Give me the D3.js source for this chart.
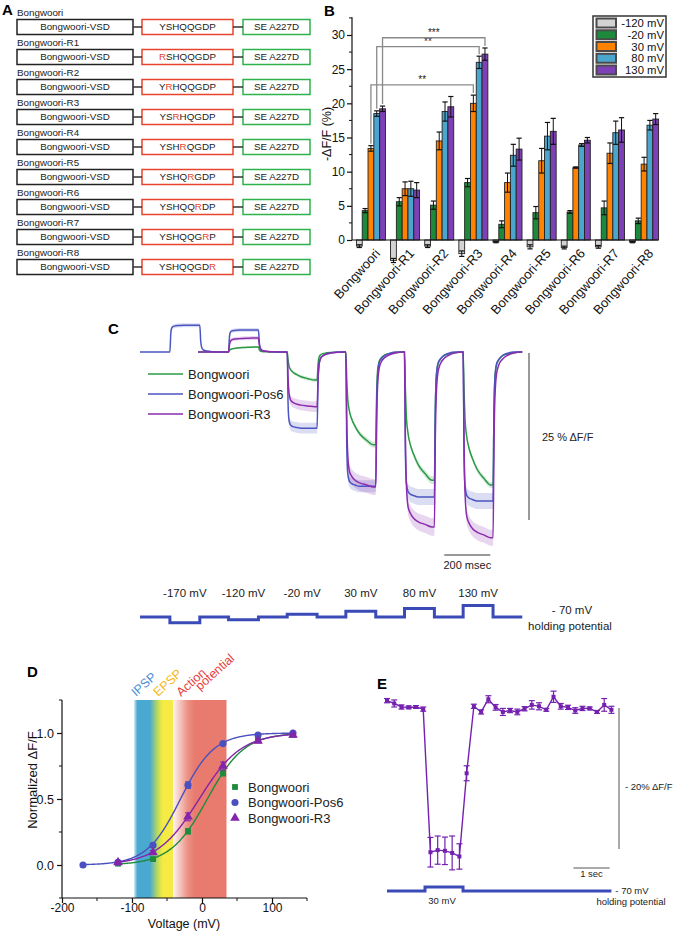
<!DOCTYPE html>
<html>
<head>
<meta charset="utf-8">
<script src="https://cdn.jsdelivr.net/npm/d3@7/dist/d3.min.js"></script>
<style>
html,body{margin:0;padding:0;background:#fff;}
svg{display:block;font-family:"Liberation Sans",Arial,Helvetica,sans-serif;}
</style>
</head>
<body>
<svg id="fig" width="675" height="931"></svg>
<script>
// ================= DATA =================
// Panel A
const constructNames = ["Bongwoori","Bongwoori-R1","Bongwoori-R2","Bongwoori-R3","Bongwoori-R4","Bongwoori-R5","Bongwoori-R6","Bongwoori-R7","Bongwoori-R8"];
const vsdLabel = "Bongwoori-VSD";
const linkerSeqs = ["YSHQQGDP","RSHQQGDP","YRHQQGDP","YSRHQGDP","YSHRQGDP","YSHQRGDP","YSHQQRDP","YSHQQGRP","YSHQQGDR"];
const mutationIndex = [-1,0,1,2,3,4,5,6,7];
const fpLabel = "SE A227D";

// Panel B  (-ΔF/F %, mean and SEM per construct)
const bGroups = constructNames;
const bLegend = ["-120 mV","-20 mV","30 mV","80 mV","130 mV"];
const dffM120 = [-0.9,-3.0,-0.9,-2.0,-0.3,-1.0,-1.1,-1.0,-0.3];
const dffM20  = [4.3,5.6,5.1,8.4,2.3,4.0,4.1,4.7,2.8];
const dff30   = [13.4,7.5,14.5,20.0,8.4,11.6,10.6,12.7,11.1];
const dff80   = [18.5,7.5,18.8,26.0,12.4,15.2,13.9,15.7,16.8];
const dff130  = [19.2,7.3,19.5,27.2,13.3,15.9,14.6,16.1,17.7];
const semM120 = [0.2,0.3,0.2,0.4,0.1,0.3,0.2,0.2,0.1];
const semM20  = [0.3,0.6,0.6,0.6,0.5,0.9,0.2,1.0,0.4];
const sem30   = [0.4,1.0,1.3,1.2,1.4,1.8,0.1,1.5,1.0];
const sem80   = [0.4,1.1,1.4,0.9,1.6,2.0,0.2,1.7,0.7];
const sem130  = [0.4,1.1,1.5,0.9,1.6,1.9,0.4,1.8,0.8];
const sigLabels = ["**","**","***"];
const sigSeries = [2,3,4];
const sigLevels = [22.7,28.3,29.6];
const sigFromGroup = 0, sigToGroup = 3;
const bYTicks = [0,5,10,15,20,25,30];

// Panel C (ΔF/F %, step levels per voltage step)
const cSteps = ["-170 mV","-120 mV","-20 mV","30 mV","80 mV","130 mV"];
const cStepMV = [-170,-120,-20,30,80,130];
const cStepOn = [130,385,640,895,1150,1405];   // ms
const cStepOff = [260,515,770,1025,1280,1535]; // ms
const cEnd = 1662;
const cNames = ["Bongwoori","Bongwoori-Pos6","Bongwoori-R3"];
const cStart = [252,0,252];
const cLevBongwoori = [null,0.75,-4.2,-13.9,-19.2,-19.9];
const cLevPos6      = [4.0,3.3,-11.4,-20.1,-21.7,-22.3];
const cLevR3        = [null,2.1,-8.2,-20.2,-26.2,-27.8];
const cSemBongwoori = [null,0.15,0.3,0.45,0.55,0.45];
const cSemPos6      = [0.3,0.3,0.8,0.9,1.2,1.2];
const cSemR3        = [null,0.3,0.8,1.2,1.3,1.2];
const kinT = [0,4,8,15,25,40,60,90,120]; // ms after step edge
const onBongwoori  = [0,0.3,0.5,0.63,0.72,0.8,0.88,0.95,1];
const onPos6       = [0,0.7,0.9,0.96,0.98,0.99,1,1,1];
const onR3         = [0,0.5,0.75,0.88,0.92,0.95,0.97,0.985,1];
const offBongwoori = [0,0.55,0.8,0.9,0.94,0.97,0.985,0.995,1];
const offPos6      = [0,0.6,0.82,0.92,0.95,0.975,0.99,1,1];
const offR3        = [0,0.5,0.75,0.88,0.93,0.96,0.98,0.995,1];

// Panel D (normalized ΔF/F vs voltage)
const dVoltages = [-170,-120,-70,-20,30,80,130];
const dBongwoori = [null,0.01,0.045,0.255,0.695,0.955,0.985];
const dPos6      = [0.0,0.02,0.15,0.605,0.92,0.985,1.0];
const dR3        = [null,0.02,0.095,0.365,0.75,0.94,0.985];
const dSemBongwoori = [null,0.01,0.01,0.02,0.02,0.02,0.01];
const dSemPos6      = [0.005,0.01,0.015,0.025,0.01,0.01,0.01];
const dSemR3        = [null,0.01,0.015,0.03,0.03,0.015,0.01];
const fitV50   = [7.6,-30.7,-4.0];
const fitSlope = [26.4,24.0,30.0];
const fitVmin  = [-120,-170,-120];
const dXTicks = [-200,-100,0,100];
const dYTicks = [0,0.5,1.0];
const dBandLabels = ["IPSP","EPSP","Action","potential"];

// Panel E (ΔF/F %, single-trial 5 Hz sampling)
const eTime = [0,0.2,0.4,0.6,0.8,1.0,1.2,1.4,1.6,1.8,2.0,2.2,2.4,2.6,2.8,3.0,3.2,3.4,3.6,3.8,4.0,4.2,4.4,4.6,4.8,5.0,5.2,5.4,5.6,5.8,6.0,6.2];
const eVal  = [0.9,0.5,0.0,-0.05,0.0,-0.3,-20.6,-20.3,-20.4,-20.7,-21.2,-9.4,0.1,-0.7,1.1,-0.05,-0.7,-0.5,-0.7,-0.25,0.3,0.1,-0.4,1.45,0.1,-0.05,-0.5,-0.2,-0.2,-0.7,0.3,-0.4];
const eSem  = [0.3,0.5,0.3,0.2,0.2,0.3,2.1,2.0,1.95,2.4,1.8,1.06,0.3,0.3,0.5,0.4,0.5,0.3,0.4,0.3,0.6,0.5,0.2,0.8,0.4,0.3,0.4,0.3,0.2,0.2,0.9,0.5];
const eStep = [1.05,2.1]; // s, 30 mV step
const eStepMV = 30;

// ================= DRAW =================
const svg = d3.select("#fig");

[["A",2,15],["B",324,16],["C",108,334],["D",27,677],["E",377,689]].forEach(([t,x,y])=>{
  svg.append("text").attr("x",x).attr("y",y).attr("font-size",15).attr("font-weight","bold").attr("fill","#000").text(t);
});

// ---------- Panel A ----------
(function(){
  const g = svg.append("g");
  const rowTop = d3.scaleLinear().domain([0,8]).range([19.5,259.5]);
  const boxH = 15;
  const vsdX=[17,133], linkX=[142,233], fpX=[243,310];
  constructNames.forEach((name,i)=>{
    const y = rowTop(i);
    g.append("text").attr("x",17).attr("y",y-3.5).attr("font-size",9.8).attr("fill","#222").text(name);
    g.append("rect").attr("x",vsdX[0]).attr("y",y).attr("width",vsdX[1]-vsdX[0]).attr("height",boxH)
      .attr("fill","#fff").attr("stroke","#222").attr("stroke-width",1.5);
    g.append("rect").attr("x",linkX[0]).attr("y",y).attr("width",linkX[1]-linkX[0]).attr("height",boxH)
      .attr("fill","#fff").attr("stroke","#e8432d").attr("stroke-width",1.5);
    g.append("rect").attr("x",fpX[0]).attr("y",y).attr("width",fpX[1]-fpX[0]).attr("height",boxH)
      .attr("fill","#fff").attr("stroke","#2fb24c").attr("stroke-width",1.5);
    g.append("line").attr("x1",vsdX[1]).attr("x2",linkX[0]).attr("y1",y+boxH/2).attr("y2",y+boxH/2).attr("stroke","#333").attr("stroke-width",1.5);
    g.append("line").attr("x1",linkX[1]).attr("x2",fpX[0]).attr("y1",y+boxH/2).attr("y2",y+boxH/2).attr("stroke","#333").attr("stroke-width",1.5);
    g.append("text").attr("x",(vsdX[0]+vsdX[1])/2).attr("y",y+boxH/2+3.4).attr("font-size",9.8).attr("text-anchor","middle").attr("fill","#222").text(vsdLabel);
    const t = g.append("text").attr("x",(linkX[0]+linkX[1])/2).attr("y",y+boxH/2+3.4).attr("font-size",9.8).attr("text-anchor","middle");
    linkerSeqs[i].split("").forEach((ch,k)=>{
      t.append("tspan").attr("fill", k===mutationIndex[i] ? "#e8432d" : "#222").text(ch);
    });
    g.append("text").attr("x",(fpX[0]+fpX[1])/2).attr("y",y+boxH/2+3.4).attr("font-size",9.8).attr("text-anchor","middle").attr("fill","#222").text(fpLabel);
  });
})();

// ---------- Panel B ----------
(function(){
  const g = svg.append("g");
  const series = [dffM120,dffM20,dff30,dff80,dff130];
  const sems = [semM120,semM20,sem30,sem80,sem130];
  const colors = ["#d3d3d3","#1d8a3b","#ff8200","#4ba6cd","#7e40b6"];
  const x = d3.scaleBand().domain(bGroups).range([353,662]).paddingInner(0.15).paddingOuter(0.1);
  const sub = d3.scaleBand().domain(d3.range(5)).range([0,x.bandwidth()]);
  const y = d3.scaleLinear().domain([0,30]).range([240,35]);
  const bw = sub.bandwidth();
  bGroups.forEach((gName,gi)=>{
    series.forEach((arr,si)=>{
      const v = arr[gi];
      g.append("rect").attr("x",x(gName)+sub(si)).attr("y",y(Math.max(0,v)))
        .attr("width",bw).attr("height",Math.abs(y(v)-y(0)))
        .attr("fill",colors[si]).attr("stroke","#222").attr("stroke-width",0.9);
    });
  });
  bGroups.forEach((gName,gi)=>{
    series.forEach((arr,si)=>{
      const v = arr[gi], e = sems[si][gi];
      const cx = x(gName)+sub(si)+bw/2;
      const cw = bw*0.45;
      g.append("line").attr("x1",cx).attr("x2",cx).attr("y1",y(v-e)).attr("y2",y(v+e)).attr("stroke","#111").attr("stroke-width",1);
      [v-e,v+e].forEach(val=>g.append("line").attr("x1",cx-cw).attr("x2",cx+cw).attr("y1",y(val)).attr("y2",y(val)).attr("stroke","#111").attr("stroke-width",1.2));
    });
  });
  g.append("line").attr("x1",352).attr("x2",658).attr("y1",y(0)).attr("y2",y(0)).attr("stroke","#111").attr("stroke-width",1.2);
  g.append("line").attr("x1",352).attr("x2",352).attr("y1",y(0)).attr("y2",y(32.6)).attr("stroke","#111").attr("stroke-width",1.2);
  const ax = g.append("g").attr("transform","translate(352,0)")
    .call(d3.axisLeft(y).tickValues(bYTicks).tickSize(5).tickPadding(2).tickFormat(d=>String(d)));
  ax.select(".domain").remove();
  ax.selectAll("text").attr("font-size",12).attr("fill","#111").attr("font-family",null);
  ax.selectAll("line").attr("stroke","#111").attr("stroke-width",1.2);
  bYTicks.forEach(t=>{ if(t+2.5<=32.6) g.append("line").attr("x1",349).attr("x2",352).attr("y1",y(t+2.5)).attr("y2",y(t+2.5)).attr("stroke","#111").attr("stroke-width",1); });
  g.append("text").attr("transform","translate(331,134) rotate(-90)").attr("text-anchor","middle").attr("font-size",12.5).attr("fill","#111").text("-ΔF/F (%)");
  bGroups.forEach(gName=>{
    g.append("text").attr("transform",`translate(${x(gName)+x.bandwidth()/2+10},254) rotate(-48)`)
      .attr("text-anchor","end").attr("font-size",13).attr("fill","#111").text(gName);
  });
  sigLabels.forEach((lab,k)=>{
    const si = sigSeries[k];
    const x1 = x(bGroups[sigFromGroup])+sub(si)+bw/2;
    const x2 = x(bGroups[sigToGroup])+sub(si)+bw/2;
    const yl = y(sigLevels[k]);
    const b1 = y(series[si][sigFromGroup]+sems[si][sigFromGroup]+0.3);
    const b2 = y(series[si][sigToGroup]+sems[si][sigToGroup]+0.3);
    g.append("path").attr("d",`M${x1},${b1}V${yl}H${x2}V${b2}`).attr("fill","none").attr("stroke","#8a8a8a").attr("stroke-width",1.3);
    g.append("text").attr("x",(x1+x2)/2).attr("y",yl-2).attr("text-anchor","middle").attr("font-size",10).attr("fill","#222").text(lab);
  });
  const lg = g.append("g");
  lg.append("rect").attr("x",593).attr("y",16).attr("width",73).attr("height",61).attr("fill","#fff").attr("stroke","#333").attr("stroke-width",1.5);
  const ly = d3.scalePoint().domain(bLegend).range([23,70]);
  bLegend.forEach((lab,i)=>{
    lg.append("rect").attr("x",596.5).attr("y",ly(lab)-4.5).attr("width",19.5).attr("height",9)
      .attr("fill",colors[i]).attr("stroke","#4a4a4a").attr("stroke-width",2);
    lg.append("text").attr("x",664).attr("y",ly(lab)+4).attr("text-anchor","end").attr("font-size",11.3).attr("fill","#111").text(lab);
  });
})();

// ---------- Panel C ----------
(function(){
  const g = svg.append("g");
  const x = d3.scaleLinear().domain([0,200]).range([140,186]);
  const y = d3.scaleLinear().domain([0,-25]).range([352,519]);
  const traces = [
    {name:cNames[0],color:"#2a9a45",start:cStart[0],lev:cLevBongwoori,sem:cSemBongwoori,on:onBongwoori,off:offBongwoori},
    {name:cNames[1],color:"#4b55c2",start:cStart[1],lev:cLevPos6,sem:cSemPos6,on:onPos6,off:offPos6},
    {name:cNames[2],color:"#8a2cae",start:cStart[2],lev:cLevR3,sem:cSemR3,on:onR3,off:offR3}
  ];
  function build(tr){
    const pts=[{t:tr.start,v:0,s:0}];
    tr.lev.forEach((L,i)=>{
      if(L===null) return;
      const S=tr.sem[i];
      kinT.forEach((dt,j)=>pts.push({t:cStepOn[i]+dt,v:L*tr.on[j],s:S*tr.on[j]}));
      kinT.forEach((dt,j)=>pts.push({t:cStepOff[i]+dt,v:L*(1-tr.off[j]),s:S*(1-tr.off[j])}));
    });
    pts.push({t:cEnd,v:0,s:0});
    return pts;
  }
  const line = d3.line().x(d=>x(d.t)).y(d=>y(d.v)).curve(d3.curveMonotoneX);
  const area = d3.area().x(d=>x(d.t)).y0(d=>y(d.v-d.s)).y1(d=>y(d.v+d.s)).curve(d3.curveMonotoneX);
  const data = traces.map(build);
  traces.forEach((tr,i)=>{
    g.append("path").attr("d",area(data[i])).attr("fill",tr.color).attr("opacity",0.2);
  });
  [0,1,2].forEach(i=>{
    g.append("path").attr("d",line(data[i])).attr("fill","none").attr("stroke",traces[i].color).attr("stroke-width",1.5);
  });
  traces.forEach((tr,i)=>{
    const yy = 374 + i*20;
    g.append("line").attr("x1",148).attr("x2",183).attr("y1",yy).attr("y2",yy).attr("stroke",tr.color).attr("stroke-width",1.5);
    g.append("text").attr("x",188).attr("y",yy+4.5).attr("font-size",13).attr("fill","#222").text(tr.name);
  });
  g.append("line").attr("x1",529).attr("x2",529).attr("y1",y(0)+1).attr("y2",y(-25)+1).attr("stroke","#777").attr("stroke-width",1.5);
  g.append("text").attr("x",542).attr("y",441).attr("font-size",11).attr("fill","#222").text("25 % ΔF/F");
  g.append("line").attr("x1",x(1323)).attr("x2",x(1523)).attr("y1",555).attr("y2",555).attr("stroke","#777").attr("stroke-width",1.5);
  g.append("text").attr("x",(x(1323)+x(1523))/2).attr("y",569).attr("text-anchor","middle").attr("font-size",11).attr("fill","#222").text("200 msec");
  const vy = d3.scaleLinear().domain([-70,130]).range([617,605.6]);
  const vpts=[[0,-70]];
  cStepMV.forEach((mv,i)=>{ vpts.push([cStepOn[i],-70],[cStepOn[i],mv],[cStepOff[i],mv],[cStepOff[i],-70]); });
  vpts.push([cEnd,-70]);
  g.append("path").attr("d",d3.line().x(d=>x(d[0])).y(d=>vy(d[1]))(vpts)).attr("fill","none").attr("stroke","#3a4bb8").attr("stroke-width",3);
  cSteps.forEach((lab,i)=>{
    g.append("text").attr("x",x((cStepOn[i]+cStepOff[i])/2)).attr("y",597).attr("text-anchor","middle").attr("font-size",11.5).attr("fill","#222").text(lab);
  });
  g.append("text").attr("x",572).attr("y",614).attr("text-anchor","middle").attr("font-size",11.5).attr("fill","#222").text("- 70 mV");
  g.append("text").attr("x",570).attr("y",630).attr("text-anchor","middle").attr("font-size",11.5).attr("fill","#222").text("holding potential");
})();

// ---------- Panel D ----------
(function(){
  const g = svg.append("g");
  const x = d3.scaleLinear().domain([-200,150]).range([62,307]);
  const y = d3.scaleLinear().domain([-0.25,1.25]).range([898,700]);
  const defs = svg.append("defs");
  const grad = defs.append("linearGradient").attr("id","bandGrad").attr("x1","0").attr("x2","1").attr("y1","0").attr("y2","0");
  [[0,"#cfe6f2"],[0.035,"#4aa9d1"],[0.17,"#4aa9d1"],[0.27,"#cfe24a"],[0.31,"#f6ea45"],[0.425,"#f6ea45"],[0.426,"#fdf0ee"],[0.58,"#eb9184"],[0.66,"#e87a6e"],[1,"#e87a6e"]]
    .forEach(([o,c])=>grad.append("stop").attr("offset",o).attr("stop-color",c));
  g.append("rect").attr("x",x(-97)).attr("y",700).attr("width",x(35)-x(-97)).attr("height",198).attr("fill","url(#bandGrad)");
  const bandCol = ["#4a8fd2","#f5b818","#e83c3c","#e83c3c"];
  const bandPos = [[136,697],[158,697],[181,697],[200,691]];
  dBandLabels.forEach((lab,i)=>{
    g.append("text").attr("transform",`translate(${bandPos[i][0]},${bandPos[i][1]}) rotate(-42)`).attr("font-size",12.5).attr("fill",bandCol[i]).text(lab);
  });
  g.append("line").attr("x1",62).attr("x2",307).attr("y1",898).attr("y2",898).attr("stroke","#111").attr("stroke-width",1.2);
  g.append("line").attr("x1",62).attr("x2",62).attr("y1",700).attr("y2",898).attr("stroke","#111").attr("stroke-width",1.2);
  const xa = g.append("g").attr("transform","translate(0,898)").call(d3.axisBottom(x).tickValues(dXTicks).tickSize(5).tickPadding(0).tickFormat(d=>String(d)));
  xa.select(".domain").remove();
  xa.selectAll("text").attr("font-size",12).attr("fill","#111").attr("font-family",null);
  xa.selectAll("line").attr("stroke","#111").attr("stroke-width",1.2);
  [-150,-50,50,150].forEach(v=>g.append("line").attr("x1",x(v)).attr("x2",x(v)).attr("y1",898).attr("y2",901).attr("stroke","#111"));
  const ya = g.append("g").attr("transform","translate(62,0)").call(d3.axisLeft(y).tickValues(dYTicks).tickSize(5).tickPadding(3).tickFormat(d=>d.toFixed(1)));
  ya.select(".domain").remove();
  ya.selectAll("text").attr("font-size",12.5).attr("fill","#111").attr("font-family",null);
  ya.selectAll("line").attr("stroke","#111").attr("stroke-width",1.2);
  [-0.25,0.25,0.75,1.25].forEach(v=>g.append("line").attr("x1",59).attr("x2",62).attr("y1",y(v)).attr("y2",y(v)).attr("stroke","#111"));
  g.append("text").attr("x",184).attr("y",927.5).attr("text-anchor","middle").attr("font-size",12.5).attr("fill","#111").text("Voltage (mV)");
  g.append("text").attr("transform","translate(37,780) rotate(-90)").attr("text-anchor","middle").attr("font-size",13).attr("fill","#111").text("Normalized ΔF/F");
  const sets = [
    {name:"Bongwoori",vals:dBongwoori,sem:dSemBongwoori,color:"#1e8c3c",sym:d3.symbolSquare,size:34},
    {name:"Bongwoori-Pos6",vals:dPos6,sem:dSemPos6,color:"#4a50c0",sym:d3.symbolCircle,size:40},
    {name:"Bongwoori-R3",vals:dR3,sem:dSemR3,color:"#8424ab",sym:d3.symbolTriangle,size:40}
  ];
  const fl = d3.line().x(d=>x(d[0])).y(d=>y(d[1]));
  sets.forEach((s,k)=>{
    const pts = d3.range(fitVmin[k],130.01,1).map(v=>[v,1/(1+Math.exp((fitV50[k]-v)/fitSlope[k]))]);
    g.append("path").attr("d",fl(pts)).attr("fill","none").attr("stroke",s.color).attr("stroke-width",1.4);
  });
  sets.forEach(s=>{
    dVoltages.forEach((v,i)=>{
      const val = s.vals[i]; if(val===null) return;
      const e = s.sem[i];
      const cx = x(v);
      g.append("line").attr("x1",cx).attr("x2",cx).attr("y1",y(val-e)).attr("y2",y(val+e)).attr("stroke",s.color).attr("stroke-width",1);
      [val-e,val+e].forEach(q=>g.append("line").attr("x1",cx-3).attr("x2",cx+3).attr("y1",y(q)).attr("y2",y(q)).attr("stroke",s.color).attr("stroke-width",1));
      g.append("path").attr("transform",`translate(${cx},${y(val)})`).attr("d",d3.symbol().type(s.sym).size(s.size)()).attr("fill",s.color);
    });
  });
  sets.forEach((s,i)=>{
    const yy = 787 + i*15.5;
    g.append("path").attr("transform",`translate(235,${yy})`).attr("d",d3.symbol().type(s.sym).size(s.size)()).attr("fill",s.color);
    g.append("text").attr("x",248).attr("y",yy+4.5).attr("font-size",13).attr("fill","#222").text(s.name);
  });
})();

// ---------- Panel E ----------
(function(){
  const g = svg.append("g");
  const x = d3.scaleLinear().domain([0,1]).range([387,423.2]);
  const y = d3.scaleLinear().domain([0,-20]).range([707,848]);
  const col = "#7421b0";
  const pts = eTime.map((t,i)=>[t,eVal[i],eSem[i]]);
  g.append("path").attr("d",d3.line().x(d=>x(d[0])).y(d=>y(d[1]))(pts)).attr("fill","none").attr("stroke",col).attr("stroke-width",1.4);
  pts.forEach(([t,v,e])=>{
    const cx=x(t);
    g.append("line").attr("x1",cx).attr("x2",cx).attr("y1",y(v-e)).attr("y2",y(v+e)).attr("stroke",col).attr("stroke-width",1.2);
    [v-e,v+e].forEach(q=>g.append("line").attr("x1",cx-3).attr("x2",cx+3).attr("y1",y(q)).attr("y2",y(q)).attr("stroke",col).attr("stroke-width",1.2));
    g.append("rect").attr("x",cx-2).attr("y",y(v)-2).attr("width",4).attr("height",4).attr("fill",col);
  });
  g.append("line").attr("x1",619).attr("x2",619).attr("y1",y(0)+1).attr("y2",y(-20)+1).attr("stroke","#555").attr("stroke-width",1);
  g.append("text").attr("x",625).attr("y",790).attr("font-size",9.5).attr("fill","#222").text("- 20% ΔF/F");
  g.append("line").attr("x1",x(5.15)).attr("x2",x(6.15)).attr("y1",868).attr("y2",868).attr("stroke","#555").attr("stroke-width",1);
  g.append("text").attr("x",(x(5.15)+x(6.15))/2).attr("y",877).attr("text-anchor","middle").attr("font-size",9.5).attr("fill","#222").text("1 sec");
  const vy = d3.scaleLinear().domain([-70,30]).range([891,887]);
  const vpts=[[0,-70],[eStep[0],-70],[eStep[0],eStepMV],[eStep[1],eStepMV],[eStep[1],-70],[6.2,-70]];
  g.append("path").attr("d",d3.line().x(d=>x(d[0])).y(d=>vy(d[1]))(vpts)).attr("fill","none").attr("stroke","#3a4bb8").attr("stroke-width",3);
  g.append("text").attr("x",442).attr("y",904).attr("text-anchor","middle").attr("font-size",9.5).attr("fill","#222").text("30 mV");
  g.append("text").attr("x",632).attr("y",894).attr("text-anchor","middle").attr("font-size",9.5).attr("fill","#222").text("- 70 mV");
  g.append("text").attr("x",631).attr("y",905).attr("text-anchor","middle").attr("font-size",9.5).attr("fill","#222").text("holding potential");
})();
</script>
</body>
</html>
